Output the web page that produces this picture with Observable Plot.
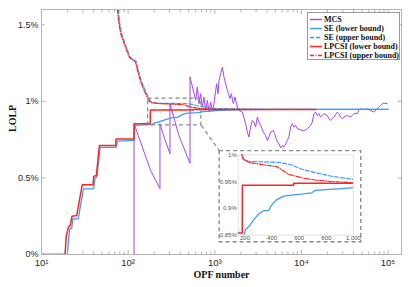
<!DOCTYPE html>
<html><head><meta charset="utf-8">
<script src="https://cdn.jsdelivr.net/npm/d3@7"></script>
<script src="https://cdn.jsdelivr.net/npm/@observablehq/plot@0.6"></script>
<style>
body{margin:0;background:#fff;}
#chart{position:relative;width:410px;height:287px;overflow:hidden;}
#chart svg{position:absolute;left:0;top:0;}
#legend{position:absolute;background:#fff;border:1px solid #9a9a9a;box-sizing:border-box;}
.row{position:absolute;left:0;height:9px;display:flex;align-items:center;font-family:"Liberation Serif","Times New Roman",serif;font-weight:bold;font-size:8px;color:#111;white-space:nowrap;}
.row svg{position:static !important;margin-right:2px;}
</style></head><body><div id="chart"></div>
<script>
// ---- data ----
const mcsX = [10,117,117,182,233,233,266,304,304,384,518,518,602,630,658,687,719,750,785,822,858,897,938,980,1024,1052,1090,1119,1170,1224,1277,1397,1497,1553,1640,1711,1822,1903,2081,2271,2376,2480,2593,2714,2833,2964,3099,3236,3384,3632,3861,4042,4220,4413,4740,4909,5177,5509,5758,6025,6285,6574,6877,7179,7505,7851,8193,8570,8966,9795,10700,11700,12770,13360,13940,14590,15250,15920,16640,18170,19890,20770,21710,23720,25940,27090,28330,29620,30930,33830,36920,40330,44110,46050,48170,52620,57540,62850,68610,75050,81960,85750,89490,97950];
const mcsY = [0,0,0.854,0.549,0.43,0.854,0.75,0.658,0.985,0.78,0.595,1.159,1.007,1.094,0.985,1.05,0.963,1.028,0.941,1.007,0.93,0.995,0.941,0.985,1.072,1.115,1.05,1.137,1.181,1.224,1.159,1.072,1.018,1.05,0.985,1.028,0.963,0.941,0.93,0.854,0.80,0.767,0.832,0.876,0.865,0.832,0.897,0.865,0.843,0.80,0.778,0.745,0.767,0.80,0.81,0.789,0.745,0.723,0.697,0.712,0.701,0.723,0.745,0.767,0.832,0.854,0.832,0.843,0.821,0.815,0.806,0.821,0.843,0.865,0.92,0.93,0.908,0.92,0.897,0.92,0.908,0.887,0.876,0.897,0.93,0.92,0.897,0.887,0.897,0.908,0.897,0.92,0.92,0.941,0.952,0.946,0.952,0.941,0.93,0.952,0.974,0.985,0.989,0.985];

const seLowX = [10,19.9,20.5,21.2,22.3,23,26.5,30.5,40,41.5,43.5,47.5,73,75,117,118,150,191,204,228,265,301,338,375,399,436,485,546,632,693,717,827,913,1000,2170,5000,100000];
const seLowY = [0,0,0.1,0.168,0.17,0.233,0.233,0.429,0.429,0.5,0.505,0.70,0.70,0.74,0.745,0.843,0.846,0.85,0.86,0.866,0.879,0.8895,0.896,0.896,0.907,0.9165,0.923,0.9247,0.927,0.929,0.9335,0.9353,0.937,0.939,0.946,0.948,0.948];

const seUpX = [77,80,84,92,105,114,124,131,143,157,171,180,191,228,448,546,620,717,839,1000,2000,5000,100000];
const seUpY = [1.6,1.51,1.445,1.38,1.29,1.275,1.26,1.205,1.128,1.074,1.026,1.005,0.992,0.9875,0.986,0.981,0.973,0.9667,0.96,0.954,0.95,0.948,0.948];

const lpLowX = [10,18.7,19.3,20.5,21.5,22.5,25.5,29.5,39.4,40,43,46.6,72,72.5,117,117.5,180,180.5,558,560,14600];
const lpLowY = [0,0,0.12,0.18,0.19,0.25,0.255,0.455,0.455,0.51,0.516,0.712,0.712,0.754,0.754,0.854,0.854,0.943,0.943,0.947,0.947];

const lpUpX = [75,78.5,82,90,103,112,122,128,140,153,167,176,185,228,350,436,448,521,620,717,839,1000,3000,14600];
const lpUpY = [1.6,1.508,1.443,1.377,1.29,1.272,1.257,1.203,1.126,1.072,1.024,1.0,0.992,0.9856,0.981,0.978,0.976,0.9636,0.957,0.953,0.95,0.948,0.947,0.947];

const seriesNames = ["MCS","SE (lower bound)","SE (upper bound)","LPCSI (lower bound)","LPCSI (upper bound)"];
const xMajorTicks = [10,100,1000,10000,100000];
const xTickLabels = ["10¹","10²","10³","10⁴","10⁵"];
const yTicks = [0,0.5,1,1.5];
const yTickLabels = ["0%","0.5%","1%","1.5%"];
const insetXTicks = [200,400,600,800,1000];
const insetYTicks = [0.85,0.9,0.95,1];
const insetYTickLabels = ["0.85%","0.9%","0.95%","1%"];
const xDomain = [10,143000];
const yDomain = [0,1.6];
const insetXDomain = [150,1000];
const insetYDomain = [0.85,1.0];
const zoomBoxX = [170,700];
const zoomBoxY = [0.843,1.018];
const insetBoxX = [1138,49100];
const insetBoxY = [0.08,0.675];

// ---- build ----
const rows = (xs, ys) => xs.map((x, i) => ({x, y: ys[i]}));
const mcs = rows(mcsX, mcsY), seLow = rows(seLowX, seLowY), seUp = rows(seUpX, seUpY),
      lpLow = rows(lpLowX, lpLowY), lpUp = rows(lpUpX, lpUpY);
const C = {mcs:"#a445ee", se:"#3d9cf5", lp:"#ff2323", axis:"#b4b4b4", box:"#8a8a8a"};
const styles = [
  {stroke:C.mcs, strokeWidth:1},
  {stroke:C.se, strokeWidth:1.3},
  {stroke:C.se, strokeWidth:1.2, strokeDasharray:"4,2"},
  {stroke:C.lp, strokeWidth:1.5},
  {stroke:C.lp, strokeWidth:1.2, strokeDasharray:"4,1.5,1,1.5"}
];
const series = [mcs, seLow, seUp, lpLow, lpUp];
const xMinor = [];
for (let d = 1; d <= 5; d++) for (let k = 2; k <= 9; k++) { const v = k * 10 ** d; if (v <= xDomain[1]) xMinor.push(v); }
const serif = "Liberation Serif, Times New Roman, serif";
const sans = "Liberation Sans, Arial, sans-serif";
const none = () => "";

const main = Plot.plot({
  width: 410, height: 287,
  marginLeft: 41, marginRight: 9, marginTop: 9, marginBottom: 33,
  x: {type: "log", domain: xDomain, axis: null},
  y: {domain: yDomain, axis: null},
  style: {fontFamily: sans, fontSize: "9px", color: "#262626", background: "white"},
  marks: [
    ...series.map((s, i) => Plot.line(s, {x: "x", y: "y", ...styles[i], clip: true})),
    Plot.rect([0], {x1: () => zoomBoxX[0], x2: () => zoomBoxX[1], y1: () => zoomBoxY[0], y2: () => zoomBoxY[1], fill: "none", stroke: C.box, strokeWidth: 1.2, strokeDasharray: "4,3"}),
    Plot.link([0], {x1: () => zoomBoxX[1], y1: () => zoomBoxY[0], x2: () => insetBoxX[0], y2: () => insetBoxY[1], stroke: C.box, strokeWidth: 1.2, strokeDasharray: "4,3"}),
    Plot.rect([0], {x1: () => insetBoxX[0], x2: () => insetBoxX[1], y1: () => insetBoxY[0], y2: () => insetBoxY[1], fill: "white", stroke: C.box, strokeWidth: 1.4, strokeDasharray: "4,3"}),
    Plot.frame({stroke: C.axis}),
    Plot.axisX({anchor: "bottom", ticks: xMajorTicks, tickSize: 0, tickPadding: 4.5, tickFormat: d => xTickLabels[xMajorTicks.indexOf(d)], fontSize: 9.5, label: null}),
    Plot.axisX({anchor: "bottom", ticks: xMinor, tickSize: -2.5, tickFormat: none, stroke: C.axis, label: null}),
    Plot.axisX({anchor: "bottom", ticks: xMajorTicks, tickSize: -4, tickFormat: none, stroke: C.axis, label: null}),
    Plot.axisX({anchor: "top", ticks: xMinor, tickSize: -2.5, tickFormat: none, stroke: C.axis, label: null}),
    Plot.axisX({anchor: "top", ticks: xMajorTicks, tickSize: -4, tickFormat: none, stroke: C.axis, label: null}),
    Plot.axisY({anchor: "left", ticks: yTicks, tickSize: 0, tickPadding: 3, tickFormat: d => yTickLabels[yTicks.indexOf(d)], fontSize: 9, label: null}),
    Plot.axisY({anchor: "left", ticks: yTicks, tickSize: -4, tickFormat: none, stroke: C.axis, label: null}),
    Plot.axisY({anchor: "right", ticks: yTicks, tickSize: -4, tickFormat: none, stroke: C.axis, label: null}),
    Plot.text(["LOLP"], {frameAnchor: "left", dx: -29, rotate: -90, fontFamily: serif, fontWeight: "bold", fontSize: 10, fill: "#111"}),
    Plot.text(["OPF number"], {frameAnchor: "bottom", dy: 23.5, fontFamily: serif, fontWeight: "bold", fontSize: 10, fill: "#111"})
  ]
});
const chart = document.getElementById("chart");
chart.appendChild(main);

// inset, placed over the dashed inset box using the main scales
const sx = main.scale("x"), sy = main.scale("y");
const L = sx.apply(insetBoxX[0]), R = sx.apply(insetBoxX[1]);
const T = sy.apply(insetBoxY[1]), B = sy.apply(insetBoxY[0]);
const inset = Plot.plot({
  width: R - L, height: B - T,
  marginLeft: 18.7, marginRight: 7.7, marginTop: 3.3, marginBottom: 7.4,
  x: {domain: insetXDomain, axis: null},
  y: {domain: insetYDomain, axis: null},
  style: {fontFamily: sans, fontSize: "6px", color: "#555", background: "transparent", overflow: "visible"},
  marks: [
    Plot.frame({stroke: "#e2e2e2"}),
    ...series.slice(1).map((s, i) => Plot.line(s, {x: "x", y: "y", ...styles[i + 1], clip: true})),
    Plot.axisX({anchor: "bottom", ticks: insetXTicks, tickSize: 0, tickPadding: 1, fontSize: 6, label: null}),
    Plot.axisY({anchor: "left", ticks: insetYTicks, tickSize: 0, tickPadding: 1.5, tickFormat: d => insetYTickLabels[insetYTicks.indexOf(d)], fontSize: 6, label: null})
  ]
});
inset.style.left = L + "px";
inset.style.top = T + "px";
chart.appendChild(inset);

// legend
const legend = document.createElement("div");
legend.id = "legend";
Object.assign(legend.style, {left: "307px", top: "12px", width: "93px", height: "48px"});
seriesNames.forEach((name, i) => {
  const row = document.createElement("div");
  row.className = "row";
  row.style.top = (1.5 + i * 9) + "px";
  row.style.left = "2px";
  const st = styles[i];
  row.innerHTML = `<svg width="12" height="9"><line x1="0" x2="12" y1="4.5" y2="4.5" stroke="${st.stroke}" stroke-width="${Math.max(st.strokeWidth, 1.4)}" ${st.strokeDasharray ? `stroke-dasharray="${st.strokeDasharray}"` : ""}/></svg><span>${name}</span>`;
  legend.appendChild(row);
});
chart.appendChild(legend);
</script></body></html>
